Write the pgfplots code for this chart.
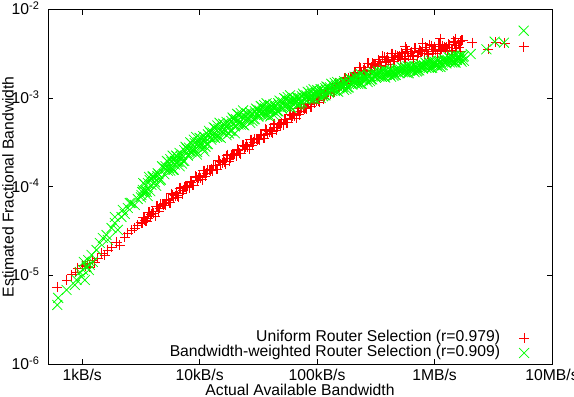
\documentclass[border=0pt]{standalone}
\usepackage{fontspec}
\setmainfont{Liberation Sans}
\usepackage{pgfplots}
\pgfplotsset{compat=1.18}
\definecolor{gpred}{RGB}{255,0,0}
\definecolor{gpgreen}{RGB}{0,255,0}
\newcommand\gpfont{\fontsize{15.7bp}{18bp}\selectfont}
\begin{document}
\begin{tikzpicture}
\begin{axis}[
  xmode=log, ymode=log,
  scale only axis, width=504bp, height=354.7bp,
  xmin=512, xmax=1e7, ymin=1e-6, ymax=1e-2,
  xtick={1e3,1e4,1e5,1e6,1e7},
  xticklabels={1kB/s,10kB/s,100kB/s,1MB/s,10MB/s},
  ytick={1e-6,1e-5,1e-4,1e-3,1e-2},
  yticklabels={10\textsuperscript{-6},10\textsuperscript{-5},10\textsuperscript{-4},10\textsuperscript{-3},10\textsuperscript{-2}},
  minor tick style={draw=none},
  tick align=inside,
  major tick length=5.5bp,
  tick style={black, line width=0.8bp},
  axis line style={line width=0.8bp},
  font=\gpfont,
  tick label style={font=\gpfont},
  xticklabel style={anchor=base, yshift=-16bp},
  yticklabel style={anchor=base east, yshift=-5.5bp, xshift=-5bp},
  xlabel={Actual Available Bandwidth},
  ylabel={Estimated Fractional Bandwidth},
  label style={font=\gpfont},
  xlabel style={at={(axis description cs:0.5,-0.0874)}, anchor=base},
  ylabel style={at={(axis description cs:-0.0794,0.5)}, anchor=center},
  legend cell align=right, legend plot pos=right,
  legend style={at={(axis description cs:1,0)}, anchor=south east, xshift=-22.7bp, yshift=3.3bp,
    draw=none, fill=none, inner sep=0pt, row sep=0pt, font=\gpfont,
    nodes={inner sep=0bp, text height=11bp, text depth=4bp},
    /tikz/every odd column/.append style={column sep=19bp}},
]
\addplot[only marks, mark=+, color=gpred, mark size=5bp, line width=0.75bp] coordinates {
(610,7.40e-6) (741,8.87e-6) (817,1.012e-5) (883,1.092e-5) (918,1.211e-5) (1014,1.309e-5) (1074,1.274e-5) (1117,1.377e-5) (1161,1.242e-5) (1233,1.489e-5) (1282,1.413e-5) (1359,1.567e-5) (1469,1.786e-5) (1560,1.694e-5) (1652,1.931e-5) (1786,2.084e-5) (1972,2.382e-5) (2089,2.203e-5) (2307,2.710e-5) (2443,3.006e-5) (2642,3.251e-5) (2805,3.42e-5) (2972,3.70e-5) (3214,3.90e-5) (3412,4.22e-5) (3614,4.44e-5)
(3162,3.981e-5) (3311,4.467e-5) (3467,4.074e-5) (3631,5.129e-5) (3802,4.571e-5) (3981,5.248e-5) (4169,4.677e-5) (4365,6.026e-5) (4571,5.754e-5) (4786,6.310e-5)
(5012,6.457e-5) (5248,7.244e-5) (5495,6.607e-5) (5754,8.318e-5) (6026,7.413e-5) (6310,8.511e-5) (6607,7.586e-5) (6918,9.772e-5) (7244,9.120e-5) (7586,1.000e-4)
(7943,1.023e-4) (8318,1.148e-4) (8710,1.047e-4) (9120,1.318e-4) (9550,1.175e-4) (10000,1.349e-4) (10470,1.202e-4) (10960,1.514e-4) (11480,1.413e-4) (12020,1.549e-4)
(12590,1.585e-4) (13180,1.738e-4) (13800,1.585e-4) (14450,1.995e-4) (15140,1.778e-4) (15850,1.995e-4) (16600,1.778e-4) (17380,2.291e-4) (18200,2.089e-4) (19050,2.291e-4)
(19950,2.344e-4) (20890,2.630e-4) (21880,2.399e-4) (22910,2.951e-4) (23990,2.630e-4) (25120,3.020e-4) (26300,2.630e-4) (27540,3.388e-4) (28840,3.162e-4) (30200,3.467e-4)
(31620,3.467e-4) (33110,3.890e-4) (34670,3.548e-4) (36310,4.467e-4) (38020,3.890e-4) (39810,4.467e-4) (41690,3.981e-4) (43650,5.129e-4) (45710,4.677e-4) (47860,5.129e-4)
(50120,5.248e-4) (52480,5.754e-4) (54950,5.248e-4) (57540,6.607e-4) (60260,5.888e-4) (63100,6.761e-4) (66070,5.888e-4) (69180,7.586e-4) (72440,7.079e-4) (75860,7.762e-4)
(79430,7.762e-4) (83180,8.710e-4) (87100,7.943e-4) (91200,9.772e-4) (95500,8.710e-4) (100000,1.000e-3) (104700,8.913e-4) (109600,1.122e-3) (114800,1.047e-3) (120200,1.148e-3)
(125900,1.175e-3) (131800,1.288e-3) (138000,1.175e-3) (144500,1.479e-3) (151400,1.318e-3) (158500,1.479e-3) (166000,1.318e-3) (173800,1.698e-3) (182000,1.585e-3) (190500,1.698e-3)
(199500,1.738e-3) (208900,1.950e-3) (218800,1.698e-3) (229100,2.239e-3) (239900,1.905e-3) (251200,2.188e-3) (263000,1.862e-3) (275400,2.455e-3) (288400,2.239e-3) (302000,2.399e-3)
(316200,2.399e-3) (331100,2.692e-3) (346700,2.344e-3) (363100,2.951e-3) (380200,2.512e-3) (398100,2.884e-3) (416900,2.399e-3) (436500,3.162e-3) (457100,2.754e-3) (478600,2.951e-3)
(501200,2.951e-3) (524800,3.236e-3) (549500,2.818e-3) (575400,3.548e-3) (602600,2.951e-3) (631000,3.311e-3) (660700,2.754e-3) (691800,3.631e-3) (724400,3.236e-3) (758600,3.388e-3)
(794300,3.388e-3) (831800,3.715e-3) (871000,3.162e-3) (912000,3.981e-3) (955000,3.311e-3) (1000000,3.802e-3) (1047000,3.162e-3) (1096000,4.074e-3) (1148000,3.548e-3) (1202000,3.802e-3)
(1259000,3.715e-3) (1318000,4.074e-3) (1380000,3.467e-3) (1445000,4.365e-3) (1514000,3.631e-3) (1585000,4.169e-3) (1660000,3.388e-3) (1738000,4.467e-3)
(3236,3.890e-5) (3388,4.467e-5) (3548,4.074e-5) (3715,5.129e-5) (3890,4.898e-5) (4074,5.012e-5) (4266,6.026e-5) (4467,5.248e-5) (4677,6.310e-5) (4898,6.166e-5)
(5129,6.166e-5) (5370,7.079e-5) (5623,6.607e-5) (5888,8.128e-5) (6166,7.943e-5) (6457,7.943e-5) (6761,9.550e-5) (7079,8.318e-5) (7413,1.000e-4) (7762,9.772e-5)
(8128,9.772e-5) (8511,1.122e-4) (8913,1.047e-4) (9333,1.288e-4) (9772,1.259e-4) (10230,1.259e-4) (10720,1.514e-4) (11220,1.318e-4) (11750,1.549e-4) (12300,1.514e-4)
(12880,1.514e-4) (13490,1.738e-4) (14130,1.585e-4) (14790,1.950e-4) (15490,1.862e-4) (16220,1.905e-4) (16980,2.239e-4) (17780,1.950e-4) (18620,2.291e-4) (19500,2.291e-4)
(20420,2.239e-4) (21380,2.570e-4) (22390,2.344e-4) (23440,2.951e-4) (24550,2.818e-4) (25700,2.818e-4) (26920,3.388e-4) (28180,2.951e-4) (29510,3.467e-4) (30900,3.388e-4)
(32360,3.388e-4) (33880,3.802e-4) (35480,3.548e-4) (37150,4.365e-4) (38900,4.169e-4) (40740,4.169e-4) (42660,5.012e-4) (44670,4.365e-4) (46770,5.129e-4) (48980,5.012e-4)
(51290,5.012e-4) (53700,5.754e-4) (56230,5.248e-4) (58880,6.457e-4) (61660,6.310e-4) (64570,6.310e-4) (67610,7.586e-4) (70790,6.457e-4) (74130,7.762e-4) (77620,7.586e-4)
(81280,7.586e-4) (85110,8.511e-4) (89130,7.943e-4) (93330,9.772e-4) (97720,9.333e-4) (102300,9.333e-4) (107200,1.122e-3) (112200,9.772e-4) (117500,1.148e-3) (123000,1.122e-3)
(128800,1.122e-3) (134900,1.288e-3) (141300,1.175e-3) (147900,1.445e-3) (154900,1.380e-3) (162200,1.413e-3) (169800,1.660e-3) (177800,1.445e-3) (186200,1.698e-3) (195000,1.660e-3)
(204200,1.660e-3) (213800,1.905e-3) (223900,1.698e-3) (234400,2.188e-3) (245500,2.042e-3) (257000,1.995e-3) (269200,2.455e-3) (281800,2.042e-3) (295100,2.455e-3) (309000,2.344e-3)
(323600,2.291e-3) (338800,2.570e-3) (354800,2.291e-3) (371500,2.884e-3) (389000,2.692e-3) (407400,2.630e-3) (426600,3.162e-3) (446700,2.570e-3) (467700,3.020e-3) (489800,2.884e-3)
(512900,2.754e-3) (537000,3.162e-3) (562300,2.754e-3) (588800,3.388e-3) (616600,3.162e-3) (645700,3.020e-3) (676100,3.631e-3) (707900,2.951e-3) (741300,3.467e-3) (776200,3.311e-3)
(812800,3.162e-3) (851100,3.548e-3) (891300,3.090e-3) (933300,3.890e-3) (977200,3.548e-3) (1023000,3.467e-3) (1072000,4.074e-3) (1122000,3.311e-3) (1175000,3.890e-3) (1230000,3.631e-3)
(1288000,3.467e-3) (1349000,3.981e-3) (1413000,3.388e-3) (1479000,4.266e-3) (1549000,3.890e-3) (1622000,3.715e-3) (1698000,4.467e-3)
(794300,4.169e-3) (1122000,4.677e-3) (1514000,4.677e-3) (562300,3.802e-3) (1660000,4.365e-3)
(2085000,4.198e-3) (2850000,3.550e-3) (3319000,4.246e-3) (3954000,4.140e-3) (5741000,3.785e-3)
};
\addlegendentry{Uniform Router Selection (r=0.979)}
\addplot[only marks, mark=x, color=gpgreen, mark size=7bp, line width=0.75bp] coordinates {
(614,4.63e-6) (625,5.56e-6) (736,6.84e-6) (867,7.80e-6) (896,8.87e-6) (955,1.086e-5) (989,9.66e-6) (1019,1.148e-5) (1033,1.416e-5) (1054,8.87e-6) (1089,1.253e-5) (1125,1.489e-5) (1140,1.148e-5) (1162,1.309e-5) (1202,1.698e-5) (1233,1.416e-5) (1325,1.931e-5) (1414,2.317e-5) (1499,2.636e-5) (1611,2.851e-5) (1652,2.506e-5) (1778,3.42e-5) (1897,3.90e-5) (1897,4.55e-5) (2011,3.25e-5) (2161,4.55e-5) (2218,5.46e-5) (2307,4.92e-5) (2445,5.75e-5) (2541,6.55e-5) (2628,6.55e-5) (2805,6.22e-5) (2972,7.26e-5) (3199,8.05e-5) (3281,9.18e-5) (3412,8.71e-5) (3614,7.85e-5) (3758,1.189e-4) (3990,1.285e-4) (4396,1.426e-4)
(3236,8.710e-5) (3388,1.072e-4) (3548,8.710e-5) (3715,1.288e-4) (3890,1.047e-4) (4074,1.288e-4) (4266,1.023e-4) (4467,1.380e-4) (4677,1.202e-4) (4898,1.660e-4)
(5129,1.585e-4) (5370,1.905e-4) (5623,1.514e-4) (5888,2.239e-4) (6166,1.778e-4) (6457,2.188e-4) (6761,1.698e-4) (7079,2.291e-4) (7413,1.950e-4) (7762,2.692e-4)
(8128,2.570e-4) (8511,3.090e-4) (8913,2.512e-4) (9333,3.631e-4) (9772,2.884e-4) (10230,3.467e-4) (10720,2.692e-4) (11220,3.548e-4) (11750,3.020e-4) (12300,4.074e-4)
(12880,3.802e-4) (13490,4.571e-4) (14130,3.631e-4) (14790,5.248e-4) (15490,4.169e-4) (16220,5.012e-4) (16980,3.802e-4) (17780,5.129e-4) (18620,4.266e-4) (19500,5.754e-4)
(20420,5.370e-4) (21380,6.457e-4) (22390,5.012e-4) (23440,7.244e-4) (24550,5.623e-4) (25700,6.607e-4) (26920,5.248e-4) (28180,6.607e-4) (29510,5.754e-4) (30900,7.413e-4)
(32360,6.918e-4) (33880,7.943e-4) (35480,6.457e-4) (37150,8.710e-4) (38900,7.079e-4) (40740,8.128e-4) (42660,6.457e-4) (44670,8.128e-4) (46770,7.079e-4) (48980,9.120e-4)
(51290,8.511e-4) (53700,9.772e-4) (56230,7.943e-4) (58880,1.072e-3) (61660,8.710e-4) (64570,9.772e-4) (67610,8.318e-4) (70790,1.000e-3) (74130,8.913e-4) (77620,1.072e-3)
(81280,1.023e-3) (85110,1.148e-3) (89130,9.772e-4) (93330,1.259e-3) (97720,1.072e-3) (102300,1.202e-3) (107200,1.000e-3) (112200,1.230e-3) (117500,1.072e-3) (123000,1.318e-3)
(128800,1.259e-3) (134900,1.413e-3) (141300,1.202e-3) (147900,1.514e-3) (154900,1.288e-3) (162200,1.445e-3) (169800,1.230e-3) (177800,1.479e-3) (186200,1.318e-3) (195000,1.622e-3)
(204200,1.514e-3) (213800,1.698e-3) (223900,1.445e-3) (234400,1.862e-3) (245500,1.585e-3) (257000,1.738e-3) (269200,1.514e-3) (281800,1.778e-3) (295100,1.622e-3) (309000,1.862e-3)
(323600,1.820e-3) (338800,1.950e-3) (354800,1.738e-3) (371500,2.089e-3) (389000,1.820e-3) (407400,1.995e-3) (426600,1.738e-3) (446700,1.995e-3) (467700,1.820e-3) (489800,2.089e-3)
(512900,1.995e-3) (537000,2.188e-3) (562300,1.950e-3) (588800,2.291e-3) (616600,2.042e-3) (645700,2.239e-3) (676100,1.950e-3) (707900,2.239e-3) (741300,2.042e-3) (776200,2.344e-3)
(812800,2.291e-3) (851100,2.455e-3) (891300,2.188e-3) (933300,2.630e-3) (977200,2.344e-3) (1023000,2.512e-3) (1072000,2.239e-3) (1122000,2.570e-3) (1175000,2.344e-3) (1230000,2.692e-3)
(1288000,2.630e-3) (1349000,2.818e-3) (1413000,2.512e-3) (1479000,3.020e-3) (1549000,2.692e-3) (1622000,2.951e-3) (1698000,2.570e-3) (1778000,2.951e-3)
(3162,7.586e-5) (3311,1.096e-4) (3467,9.120e-5) (3631,1.096e-4) (3802,8.913e-5) (3981,1.318e-4) (4169,1.122e-4) (4365,1.318e-4) (4571,1.175e-4) (4786,1.698e-4)
(5012,1.380e-4) (5248,1.950e-4) (5495,1.622e-4) (5754,1.905e-4) (6026,1.549e-4) (6310,2.239e-4) (6607,1.905e-4) (6918,2.188e-4) (7244,1.950e-4) (7586,2.818e-4)
(7943,2.239e-4) (8318,3.162e-4) (8710,2.630e-4) (9120,3.090e-4) (9550,2.455e-4) (10000,3.548e-4) (10470,2.951e-4) (10960,3.388e-4) (11480,3.020e-4) (12020,4.266e-4)
(12590,3.388e-4) (13180,4.677e-4) (13800,3.890e-4) (14450,4.467e-4) (15140,3.548e-4) (15850,5.129e-4) (16600,4.266e-4) (17380,4.898e-4) (18200,4.266e-4) (19050,6.026e-4)
(19950,4.786e-4) (20890,6.607e-4) (21880,5.370e-4) (22910,6.166e-4) (23990,4.898e-4) (25120,6.761e-4) (26300,5.754e-4) (27540,6.457e-4) (28840,5.754e-4) (30200,7.586e-4)
(31620,6.166e-4) (33110,8.128e-4) (34670,6.918e-4) (36310,7.586e-4) (38020,6.310e-4) (39810,8.318e-4) (41690,7.244e-4) (43650,7.943e-4) (45710,7.079e-4) (47860,9.333e-4)
(50120,7.586e-4) (52480,1.000e-3) (54950,8.318e-4) (57540,9.333e-4) (60260,7.762e-4) (63100,1.000e-3) (66070,8.913e-4) (69180,9.772e-4) (72440,8.913e-4) (75860,1.122e-3)
(79430,9.550e-4) (83180,1.175e-3) (87100,1.023e-3) (91200,1.122e-3) (95500,9.772e-4) (100000,1.230e-3) (104700,1.096e-3) (109600,1.175e-3) (114800,1.072e-3) (120200,1.349e-3)
(125900,1.148e-3) (131800,1.445e-3) (138000,1.259e-3) (144500,1.380e-3) (151400,1.175e-3) (158500,1.479e-3) (166000,1.318e-3) (173800,1.445e-3) (182000,1.318e-3) (190500,1.660e-3)
(199500,1.413e-3) (208900,1.738e-3) (218800,1.514e-3) (229100,1.660e-3) (239900,1.445e-3) (251200,1.778e-3) (263000,1.622e-3) (275400,1.738e-3) (288400,1.622e-3) (302000,1.950e-3)
(316200,1.698e-3) (331100,1.995e-3) (346700,1.778e-3) (363100,1.905e-3) (380200,1.698e-3) (398100,1.995e-3) (416900,1.820e-3) (436500,1.950e-3) (457100,1.820e-3) (478600,2.138e-3)
(501200,1.905e-3) (524800,2.239e-3) (549500,1.995e-3) (575400,2.138e-3) (602600,1.905e-3) (631000,2.239e-3) (660700,2.042e-3) (691800,2.188e-3) (724400,2.042e-3) (758600,2.399e-3)
(794300,2.138e-3) (831800,2.512e-3) (871000,2.291e-3) (912000,2.399e-3) (955000,2.188e-3) (1000000,2.570e-3) (1047000,2.344e-3) (1096000,2.512e-3) (1148000,2.344e-3) (1202000,2.754e-3)
(1259000,2.455e-3) (1318000,2.884e-3) (1380000,2.630e-3) (1445000,2.818e-3) (1514000,2.512e-3) (1585000,2.951e-3) (1660000,2.692e-3) (1738000,2.884e-3)
(5129,1.698e-4) (5370,1.514e-4) (5623,2.042e-4) (5888,1.549e-4) (6166,1.950e-4) (6457,1.905e-4) (6761,2.399e-4) (7079,1.820e-4) (7413,2.570e-4) (7762,2.399e-4)
(8128,2.754e-4) (8511,2.455e-4) (8913,3.388e-4) (9333,2.512e-4) (9772,3.162e-4) (10230,3.020e-4) (10720,3.715e-4) (11220,2.818e-4) (11750,3.890e-4) (12300,3.631e-4)
(12880,4.074e-4) (13490,3.548e-4) (14130,4.898e-4) (14790,3.631e-4) (15490,4.571e-4) (16220,4.365e-4) (16980,5.370e-4) (17780,3.981e-4) (18620,5.495e-4) (19500,5.129e-4)
(20420,5.754e-4) (21380,5.012e-4) (22390,6.761e-4) (23440,5.012e-4) (24550,6.166e-4) (25700,5.888e-4) (26920,6.918e-4) (28180,5.495e-4) (29510,7.079e-4) (30900,6.607e-4)
(32360,7.244e-4) (33880,6.457e-4) (35480,8.318e-4) (37150,6.457e-4) (38900,7.586e-4) (40740,7.244e-4) (42660,8.511e-4) (44670,6.761e-4) (46770,8.710e-4) (48980,8.128e-4)
(51290,8.913e-4) (53700,7.943e-4) (56230,1.023e-3) (58880,7.943e-4) (61660,9.333e-4) (64570,8.913e-4) (67610,1.023e-3) (70790,8.511e-4) (74130,1.047e-3) (77620,1.000e-3)
(81280,1.072e-3) (85110,9.772e-4) (89130,1.202e-3) (93330,9.772e-4) (97720,1.148e-3) (102300,1.096e-3) (107200,1.259e-3) (112200,1.047e-3) (117500,1.288e-3) (123000,1.202e-3)
(128800,1.318e-3) (134900,1.202e-3) (141300,1.479e-3) (147900,1.202e-3) (154900,1.380e-3) (162200,1.349e-3) (169800,1.549e-3) (177800,1.259e-3) (186200,1.549e-3) (195000,1.479e-3)
(204200,1.585e-3) (213800,1.445e-3) (223900,1.778e-3) (234400,1.445e-3) (245500,1.660e-3) (257000,1.622e-3) (269200,1.820e-3) (281800,1.549e-3) (295100,1.862e-3) (309000,1.778e-3)
(323600,1.862e-3) (338800,1.738e-3) (354800,1.995e-3) (371500,1.738e-3) (389000,1.905e-3) (407400,1.862e-3) (426600,2.042e-3) (446700,1.778e-3) (467700,2.042e-3) (489800,1.950e-3)
(512900,2.089e-3) (537000,1.950e-3) (562300,2.239e-3) (588800,1.905e-3) (616600,2.138e-3) (645700,2.089e-3) (676100,2.291e-3) (707900,1.995e-3) (741300,2.291e-3) (776200,2.239e-3)
(812800,2.344e-3) (851100,2.188e-3) (891300,2.570e-3) (933300,2.188e-3) (977200,2.455e-3) (1023000,2.344e-3) (1072000,2.630e-3) (1122000,2.239e-3) (1175000,2.630e-3) (1230000,2.570e-3)
(1288000,2.692e-3) (1349000,2.512e-3) (1413000,2.951e-3) (1479000,2.512e-3) (1549000,2.818e-3) (1622000,2.754e-3) (1698000,3.020e-3) (1778000,2.630e-3)
(9500,2.3e-4) (11000,2.5e-4) (20000,4.0e-4) (40000,6.2e-4) (70000,8.6e-4)
(2032000,3.133e-3) (2761000,3.540e-3) (3251000,4.315e-3) (3900000,4.198e-3) (5741000,5.740e-3)
};
\addlegendentry{Bandwidth-weighted Router Selection (r=0.909)}
\coordinate (bl) at (rel axis cs:0,0);
\end{axis}
\pgfresetboundingbox
\path[use as bounding box] ([shift={(-48bp,-33bp)}]bl) rectangle ([shift={(526bp,364bp)}]bl);
\end{tikzpicture}
\end{document}
